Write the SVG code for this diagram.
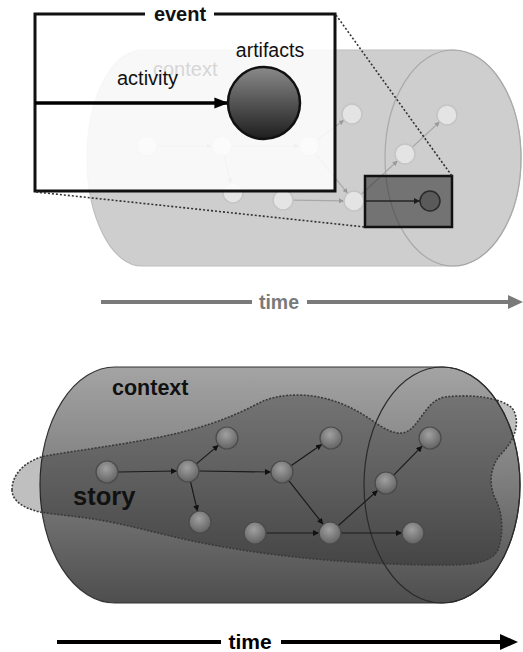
<svg xmlns="http://www.w3.org/2000/svg" width="523" height="652" viewBox="0 0 523 652">
  <defs>
    <style>
      .lbl { font-family: "Liberation Sans", Arial, sans-serif; }
      .b { font-weight: bold; }
      .faint-node { fill: #e4e4e4; stroke: #c4c4c4; stroke-width: 1.5; }
      .faint-edge { stroke: #a8a8a8; stroke-width: 1.2; fill: none; marker-end: url(#tipFaint); }
      .story-node { fill: url(#nodeGrad); stroke: #4a4a4a; stroke-width: 1.2; }
      .story-edge { stroke: #1a1a1a; stroke-width: 1.2; fill: none; marker-end: url(#tipDark); }
      .dots { stroke: #333; stroke-width: 1.6; stroke-dasharray: 2 2; fill: none; }
    </style>
    <marker id="tipFaint" viewBox="0 0 10 10" refX="10" refY="5" markerWidth="5" markerHeight="5" orient="auto" markerUnits="userSpaceOnUse">
      <path d="M0,0 L10,5 L0,10 Z" fill="#999"/>
    </marker>
    <marker id="tipDark" viewBox="0 0 10 10" refX="10" refY="5" markerWidth="6" markerHeight="6" orient="auto" markerUnits="userSpaceOnUse">
      <path d="M0,0 L10,5 L0,10 Z" fill="#111"/>
    </marker>
    <marker id="tipBold" viewBox="0 0 10 10" refX="9" refY="5" markerWidth="14" markerHeight="14" orient="auto" markerUnits="userSpaceOnUse">
      <path d="M0,1 L10,5 L0,9 Z" fill="#000"/>
    </marker>
    <linearGradient id="ballGrad" x1="0" y1="0" x2="0" y2="1">
      <stop offset="0" stop-color="#8a8a8a"/>
      <stop offset="1" stop-color="#1e1e1e"/>
    </linearGradient>
    <radialGradient id="nodeGrad" cx="0.45" cy="0.35" r="0.7">
      <stop offset="0" stop-color="#a0a0a0"/>
      <stop offset="1" stop-color="#5e5e5e"/>
    </radialGradient>
    <linearGradient id="tubeGrad" x1="0" y1="0" x2="0" y2="1">
      <stop offset="0" stop-color="#a4a4a4"/>
      <stop offset="0.5" stop-color="#7c7c7c"/>
      <stop offset="1" stop-color="#4e4e4e"/>
    </linearGradient>
  </defs>
  <rect width="523" height="652" fill="#fff"/>

  <!-- upper panel: faded context tube -->
  <g id="context-top">
    <path d="M142,50 L453,50 A68,108 0 0 1 453,266 L142,266 A55,108 0 0 1 142,50 Z" fill="#cecece" stroke="#bdbdbd" stroke-width="1.2"/>
    <ellipse cx="453" cy="158" rx="68" ry="108" fill="none" stroke="#a9a9a9" stroke-width="1.2"/>
  </g>

  <g id="connectors-top">
    <line class="faint-edge" x1="157" y1="146" x2="212" y2="146"/>
    <line class="faint-edge" x1="232" y1="146" x2="299" y2="146"/>
    <line class="faint-edge" x1="317" y1="140" x2="344" y2="120"/>
    <line class="faint-edge" x1="224.3" y1="155.7" x2="230.7" y2="183.3"/>
    <line class="faint-edge" x1="315.3" y1="153.7" x2="347.7" y2="193.3"/>
    <line class="faint-edge" x1="293" y1="200.1" x2="344" y2="200.9"/>
    <line class="faint-edge" x1="361.4" y1="194.2" x2="397.6" y2="160.8"/>
    <line class="faint-edge" x1="412.3" y1="147.2" x2="439.7" y2="121.8"/>
    <line x1="364" y1="201" x2="420" y2="201" stroke="#222" stroke-width="1.3" marker-end="url(#tipDark)"/>
  </g>

  <g id="n-t1"><circle class="faint-node" cx="147" cy="146" r="10"/></g>
  <g id="n-t2"><circle class="faint-node" cx="222" cy="146" r="10"/></g>
  <g id="n-t3"><circle class="faint-node" cx="309" cy="146" r="10"/></g>
  <g id="n-t4"><circle class="faint-node" cx="352" cy="114" r="10"/></g>
  <g id="n-t5"><circle class="faint-node" cx="233" cy="193" r="10"/></g>
  <g id="n-t6"><circle class="faint-node" cx="283" cy="200" r="10"/></g>
  <g id="n-t7"><circle class="faint-node" cx="354" cy="201" r="10"/></g>
  <g id="n-t8"><circle class="faint-node" cx="405" cy="154" r="10"/></g>
  <g id="n-t9"><circle class="faint-node" cx="447" cy="115" r="10"/></g>

  <!-- highlighted event box inside the tube -->
  <g id="event-focus">
    <rect x="365" y="176" width="87" height="51" fill="#282828" fill-opacity="0.55" stroke="#111" stroke-width="2.5"/>
    <circle cx="430" cy="201" r="10" fill="#5a5a5a" stroke="#2a2a2a" stroke-width="1.5"/>
  </g>

  <!-- magnified event -->
  <g id="event">
    <rect x="35" y="14" width="300" height="177" fill="#fff" fill-opacity="0.86"/>
    <path d="M145,14 L35,14 L35,191 L335,191 L335,14 L214,14" fill="none" stroke="#111" stroke-width="3"/>
    <text class="lbl b" x="180" y="21" font-size="20" text-anchor="middle" fill="#111">event</text>
  </g>
  <text class="lbl" x="153" y="76" font-size="20" fill="#d6d6d6">context</text>

  <g id="zoom-guides">
    <line class="dots" x1="336" y1="15" x2="452" y2="176"/>
    <line class="dots" x1="36" y1="192" x2="365" y2="227"/>
  </g>

  <g id="activity">
    <line x1="35" y1="103" x2="227" y2="103" stroke="#000" stroke-width="3.5" marker-end="url(#tipBold)"/>
    <text class="lbl" x="117" y="85" font-size="20" fill="#111">activity</text>
  </g>
  <g id="artifacts">
    <circle cx="264" cy="103" r="36" fill="url(#ballGrad)" stroke="#111" stroke-width="2.5"/>
    <text class="lbl" x="270" y="57" font-size="19.5" text-anchor="middle" fill="#111">artifacts</text>
  </g>

  <g id="time-top">
    <line x1="101" y1="302" x2="252" y2="302" stroke="#7a7a7a" stroke-width="4"/>
    <line x1="307" y1="302" x2="510" y2="302" stroke="#7a7a7a" stroke-width="4"/>
    <polygon points="508,295 523,302 508,309" fill="#7a7a7a"/>
    <text class="lbl b" x="279" y="309" font-size="19.5" text-anchor="middle" fill="#7a7a7a">time</text>
  </g>

  <!-- lower panel: context tube with story -->
  <g id="context-bottom">
    <path d="M115,367 L442,367 A78,118 0 0 1 442,603 L115,603 A75,118 0 0 1 115,367 Z" fill="url(#tubeGrad)" stroke="#333" stroke-width="1.2"/>
    <text class="lbl b" x="112" y="395" font-size="21.5" fill="#111">context</text>
  </g>

  <g id="story">
    <path d="M12,490 C12,472 28,460 45,456 C80,450 120,445 160,437 C200,429 230,418 255,405 C270,397 282,395 300,395 C330,396 352,407 370,419 C384,429 396,436 406,432 C420,426 426,400 445,397 C470,394 500,397 512,408 C521,420 516,440 500,455 C490,468 489,482 494,496 C503,512 504,532 498,550 C490,564 470,565 440,565 C380,565 300,560 230,548 C180,540 150,530 110,522 C80,516 56,515 40,512 C22,508 12,500 12,490 Z" fill="#000" fill-opacity="0.25" stroke="#3a3a3a" stroke-width="1.6" stroke-dasharray="2 1.5"/>
    <text class="lbl b" x="73" y="505" font-size="25.5" fill="#111">story</text>
  </g>

  <ellipse id="tube-end" cx="442" cy="485" rx="78" ry="118" fill="none" stroke="#2a2a2a" stroke-width="1.2"/>

  <g id="connectors-bottom">
    <line class="story-edge" x1="118" y1="472" x2="177" y2="471"/>
    <line class="story-edge" x1="199" y1="471" x2="271" y2="472"/>
    <line class="story-edge" x1="196.4" y1="463.9" x2="218.6" y2="445.1"/>
    <line class="story-edge" x1="190.5" y1="481.7" x2="197.5" y2="511.3"/>
    <line class="story-edge" x1="291" y1="465.7" x2="322" y2="444.3"/>
    <line class="story-edge" x1="288.8" y1="480.6" x2="323.2" y2="524.4"/>
    <line class="story-edge" x1="266" y1="533" x2="319" y2="533"/>
    <line class="story-edge" x1="338.2" y1="525.7" x2="377.8" y2="490.3"/>
    <line class="story-edge" x1="393.7" y1="475.1" x2="422.3" y2="445.9"/>
    <line class="story-edge" x1="341" y1="533" x2="402" y2="533"/>
  </g>

  <g id="n-b1"><circle class="story-node" cx="107" cy="472" r="11"/></g>
  <g id="n-b2"><circle class="story-node" cx="188" cy="471" r="11"/></g>
  <g id="n-b3"><circle class="story-node" cx="227" cy="438" r="11"/></g>
  <g id="n-b4"><circle class="story-node" cx="200" cy="522" r="11"/></g>
  <g id="n-b5"><circle class="story-node" cx="282" cy="472" r="11"/></g>
  <g id="n-b6"><circle class="story-node" cx="331" cy="438" r="11"/></g>
  <g id="n-b7"><circle class="story-node" cx="255" cy="533" r="11"/></g>
  <g id="n-b8"><circle class="story-node" cx="330" cy="533" r="11"/></g>
  <g id="n-b9"><circle class="story-node" cx="386" cy="483" r="11"/></g>
  <g id="n-b10"><circle class="story-node" cx="430" cy="438" r="11"/></g>
  <g id="n-b11"><circle class="story-node" cx="413" cy="533" r="11"/></g>

  <g id="time-bottom">
    <line x1="57" y1="642" x2="221" y2="642" stroke="#000" stroke-width="4"/>
    <line x1="281" y1="642" x2="503" y2="642" stroke="#000" stroke-width="4"/>
    <polygon points="500,634 518,642 500,650" fill="#000"/>
    <text class="lbl b" x="250" y="649" font-size="21" text-anchor="middle" fill="#000">time</text>
  </g>
</svg>
